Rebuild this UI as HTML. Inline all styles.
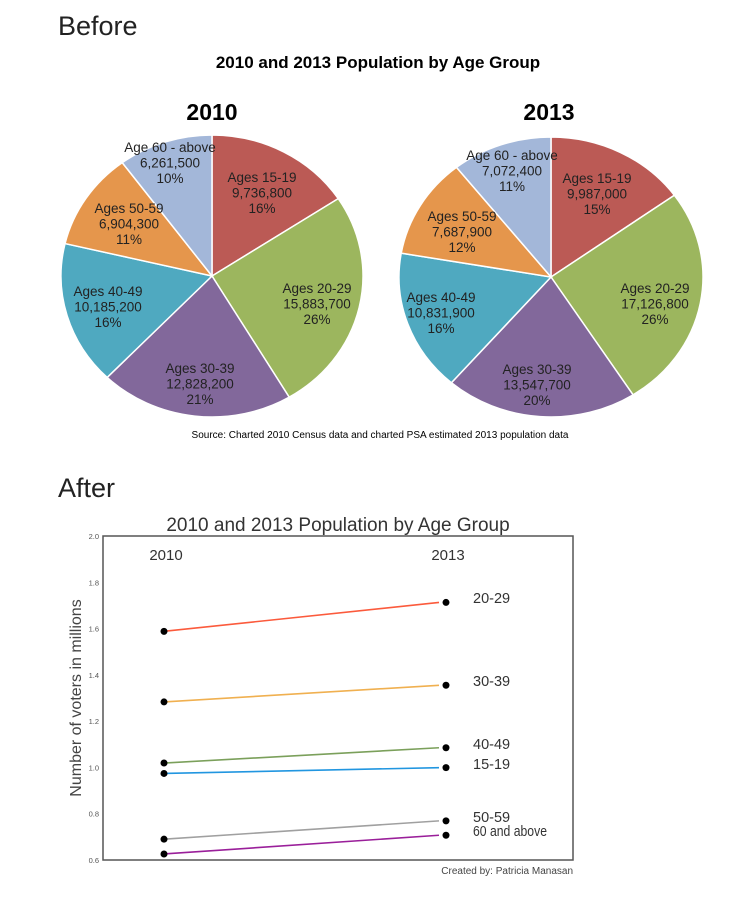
<!DOCTYPE html>
<html><head><meta charset="utf-8"><style>
body{margin:0;background:#fff;}
svg{display:block;font-family:"Liberation Sans",sans-serif;}
</style></head><body>
<svg id="s" width="740" height="900" viewBox="0 0 740 900">
<text x="58" y="35" font-size="27" fill="#222">Before</text>
<text x="378" y="68" font-size="17" font-weight="bold" text-anchor="middle" fill="#000">2010 and 2013 Population by Age Group</text>
<text x="212" y="120" font-size="23" font-weight="bold" text-anchor="middle">2010</text>
<text x="549" y="120" font-size="23" font-weight="bold" text-anchor="middle">2013</text>
<g id="pies"></g>
<text x="380" y="438" font-size="10" text-anchor="middle" fill="#000">Source: Charted 2010 Census data and charted PSA estimated 2013 population data</text>
<text x="58" y="497" font-size="27" fill="#222">After</text>
<text x="338" y="531" font-size="19" text-anchor="middle" fill="#333">2010 and 2013 Population by Age Group</text>
<rect x="103" y="536" width="470" height="324" fill="none" stroke="#555" stroke-width="1.5"/>
<g id="chart"></g>
<text transform="translate(81,698) rotate(-90)" font-size="16" text-anchor="middle" fill="#444">Number of voters in millions</text>
<text x="573" y="874" font-size="10" text-anchor="end" fill="#444">Created by: Patricia Manasan</text>
</svg>
<script>
const ns="http://www.w3.org/2000/svg";
const pieLabels=["Ages 15-19","Ages 20-29","Ages 30-39","Ages 40-49","Ages 50-59","Age 60 - above"];
const pie2010=[9736800,15883700,12828200,10185200,6904300,6261500];
const pie2013=[9987000,17126800,13547700,10831900,7687900,7072400];
const pct2010=["16%","26%","21%","16%","11%","10%"];
const pct2013=["15%","26%","20%","16%","12%","11%"];
const pieColors=["#bb5a55","#9cb65e","#82689b","#4fa9c0","#e5964c","#a3b7d9"];
function el(t,a,p){const e=document.createElementNS(ns,t);for(const k in a)e.setAttribute(k,a[k]);p.appendChild(e);return e;}
const pies=document.getElementById('pies');
const labelPos={2010:[[262,177],[317,288],[200,368],[108,291],[129,208],[170,147]],2013:[[597,178],[655,288],[537,369],[441,297],[462,216],[512,155]]};
function drawPie(vals,pcts,cx,cy,rx,ry,yr){
  const tot=vals.reduce((a,b)=>a+b,0);let a0=0;
  vals.forEach((v,i)=>{
    const a1=a0+v/tot*2*Math.PI;
    const x0=cx+rx*Math.sin(a0),y0=cy-ry*Math.cos(a0),x1=cx+rx*Math.sin(a1),y1=cy-ry*Math.cos(a1);
    const p=el('path',{d:`M${cx},${cy}L${x0},${y0}A${rx},${ry} 0 ${a1-a0>Math.PI?1:0} 1 ${x1},${y1}Z`,fill:pieColors[i],stroke:"#fff","stroke-width":1.5},pies);
    
    
    a0=a1;
  });
  vals.forEach((v,i)=>{
    const [lx,ly]=labelPos[yr][i];
    [pieLabels[i],v.toLocaleString('en-US'),pcts[i]].forEach((s,j)=>{
      const t=el('text',{x:lx,y:ly+j*15.5+5,"font-size":13.5,"text-anchor":"middle",fill:"#222"},pies);
      t.textContent=s;
      
      
    });
  });
}
drawPie(pie2010,pct2010,212,276,151,141,2010);
drawPie(pie2013,pct2013,551,277,152,140,2013);

const groups=["20-29","30-39","40-49","15-19","50-59","60 and above"];
const v2010=[1.588,1.283,1.019,0.974,0.690,0.626];
const v2013=[1.713,1.355,1.085,0.999,0.769,0.707];
const lineColors=["#fb5a3c","#f0b050","#7ba05b","#2196e0","#a0a0a0","#9a1f9a"];
const yTicks=[0.6,0.8,1.0,1.2,1.4,1.6,1.8,2.0];
const labelY=[598,681,744,764,817,831];
const years=["2010","2013"];
const ch=document.getElementById('chart');
const y=v=>860-(v-0.6)/(1.4)*324;
const x=i=>164+i*282;
yTicks.forEach(t=>{const e=el('text',{x:99,y:y(t)+3,"font-size":7.5,"text-anchor":"end",fill:"#555"},ch);e.textContent=t.toFixed(1);

});
years.forEach((s,i)=>{const e=el('text',{x:x(i)+2,y:560,"font-size":15,"text-anchor":"middle",fill:"#333"},ch);e.textContent=s;

});
groups.forEach((g,i)=>{
  const l=el('line',{x1:x(0),y1:y(v2010[i]),x2:x(1)-7,y2:y(v2013[i]),stroke:lineColors[i],"stroke-width":1.6},ch);
  
  
  [v2010[i],v2013[i]].forEach((v,j)=>{const c=el('circle',{cx:x(j),cy:y(v),r:3.5,fill:"#000"},ch);
  
  });
  const attrs={x:473,y:labelY[i]+5,"font-size":14.5,fill:"#333"};
  if(g.length>6){attrs.textLength=74;attrs.lengthAdjust="spacingAndGlyphs";}
  const t=el('text',attrs,ch);t.textContent=g;
  
  
});
</script>
</body></html>
